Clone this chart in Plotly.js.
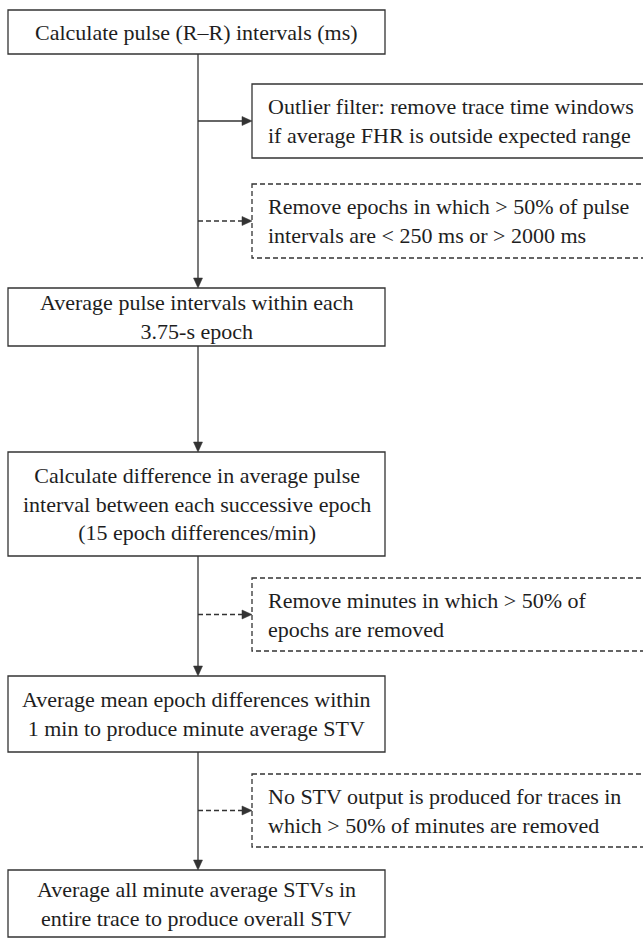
<!DOCTYPE html>
<html>
<head>
<meta charset="utf-8">
<script src="https://cdn.plot.ly/plotly-3.0.1.min.js"></script>
<style>html,body{margin:0;padding:0;background:#fff;}</style>
</head>
<body>
<div id="chart" style="width:643px;height:939px;"></div>
<script>
// Flowchart content
const mainSteps = [
  "Calculate pulse (R–R) intervals (ms)",
  "Average pulse intervals within each<br>3.75-s epoch",
  "Calculate difference in average pulse<br>interval between each successive epoch<br>(15 epoch differences/min)",
  "Average mean epoch differences within<br>1 min to produce minute average STV",
  "Average all minute average STVs in<br>entire trace to produce overall STV"
];
const sideNotes = [
  "Outlier filter: remove trace time windows<br>if average FHR is outside expected range",
  "Remove epochs in which > 50% of pulse<br>intervals are < 250 ms or > 2000 ms",
  "Remove minutes in which > 50% of<br>epochs are removed",
  "No STV output is produced for traces in<br>which > 50% of minutes are removed"
];
const sideKind = ["solid", "dashed", "dashed", "dashed"];

// layout geometry (pixels)
const mainTop = [10, 288, 452, 676, 870];
const mainBottom = [54, 346, 556, 752, 937];
const sideTop = [84, 184, 578, 774];
const sideBottom = [158, 258, 651, 847];
const mainLeft = 8, mainRight = 385, spineX = 198;
const sideLeft = 252, sideRight = 660;

const lineColor = "#333333";
const textColor = "#1e1e1e";
const fontFam = "Liberation Serif, Times New Roman, serif";
const lw = 1.3;

const shapes = [];
const annotations = [];

function tri(tipX, tipY, dir) {
  const L = 10, H = 4.5;
  let p;
  if (dir === "down") p = `M ${tipX} ${tipY} L ${tipX - H} ${tipY - L} L ${tipX + H} ${tipY - L} Z`;
  else p = `M ${tipX} ${tipY} L ${tipX - L} ${tipY - H} L ${tipX - L} ${tipY + H} Z`;
  shapes.push({type: "path", xref: "x", yref: "y", path: p,
    fillcolor: lineColor, line: {color: lineColor, width: 0.5}});
}

// main boxes
mainSteps.forEach((t, i) => {
  shapes.push({type: "rect", xref: "x", yref: "y", x0: mainLeft, x1: mainRight,
    y0: mainTop[i], y1: mainBottom[i], line: {color: lineColor, width: lw}, fillcolor: "rgba(0,0,0,0)"});
  annotations.push({x: (mainLeft + mainRight) / 2, y: (mainTop[i] + mainBottom[i]) / 2,
    xref: "x", yref: "y", text: t, showarrow: false, xanchor: "center", yanchor: "middle",
    align: "center", font: {family: fontFam, size: 22, color: textColor}});
  if (i < mainSteps.length - 1) {
    shapes.push({type: "line", xref: "x", yref: "y", x0: spineX, x1: spineX,
      y0: mainBottom[i], y1: mainTop[i + 1] - 8, line: {color: lineColor, width: lw}});
    tri(spineX, mainTop[i + 1], "down");
  }
});

// side notes
sideNotes.forEach((t, i) => {
  const dash = sideKind[i] === "dashed" ? "5px,3px" : "solid";
  shapes.push({type: "rect", xref: "x", yref: "y", x0: sideLeft, x1: sideRight,
    y0: sideTop[i], y1: sideBottom[i], line: {color: lineColor, width: lw, dash: dash}, fillcolor: "rgba(0,0,0,0)"});
  const my = (sideTop[i] + sideBottom[i]) / 2;
  shapes.push({type: "line", xref: "x", yref: "y", x0: spineX, x1: sideLeft - 8,
    y0: my, y1: my, line: {color: lineColor, width: lw, dash: dash}});
  tri(sideLeft, my, "right");
  annotations.push({x: sideLeft + 14, y: my, xref: "x", yref: "y", text: t, showarrow: false,
    xanchor: "left", yanchor: "middle", align: "left",
    font: {family: fontFam, size: 22, color: textColor}});
});

const layout = {
  width: 643, height: 939,
  margin: {l: 0, r: 0, t: 0, b: 0, pad: 0},
  paper_bgcolor: "#ffffff", plot_bgcolor: "#ffffff",
  showlegend: false,
  xaxis: {range: [0, 643], visible: false, fixedrange: true},
  yaxis: {range: [939, 0], visible: false, fixedrange: true},
  shapes: shapes,
  annotations: annotations
};

Plotly.newPlot("chart", [{x: [], y: [], type: "scatter", mode: "markers", hoverinfo: "skip"}], layout,
  {displayModeBar: false, staticPlot: true});
</script>
</body>
</html>
